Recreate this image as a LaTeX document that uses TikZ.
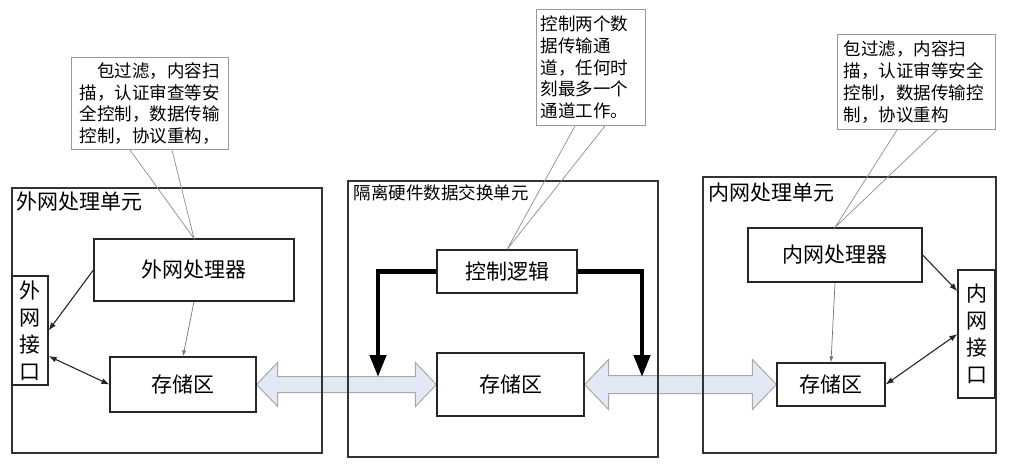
\documentclass[tikz,border=0pt]{standalone}
\usepackage{fontspec}
\usepackage{tikz}
\usetikzlibrary{arrows.meta,calc,backgrounds}
\newfontfamily\cjk{Noto Sans CJK SC}
\definecolor{busfill}{HTML}{E3E9F4}
\definecolor{busline}{HTML}{A8A8A8}

\tikzset{
  unit/.style={draw=black!80, line width=1.2pt, inner sep=0pt},
  box/.style={draw=black!85, line width=1.2pt, inner sep=0pt, font=\cjk\fontsize{21}{25}\selectfont},
  port/.style={box, align=center, font=\cjk\fontsize{21}{27}\selectfont},
  title/.style={anchor=north west, inner sep=0pt, font=\cjk\fontsize{21}{25}\selectfont},
  note/.style={draw=black!40, line width=1pt, anchor=north west, align=left, font=\cjk\fontsize{17.5}{21.7}\selectfont},
  pointer/.style={draw=black!45, line width=0.7pt},
  link/.style={black!85, line width=1.1pt, >={Latex[length=8pt,width=6pt]}},
  feed/.style={black!55, line width=0.7pt, -{Latex[length=6pt,width=4pt]}},
  ctrl/.style={line width=4.5pt, -{Triangle[length=22pt,width=16pt]}},
  bus/.style={draw=busline, fill=busfill, line width=1pt, line join=miter}
}

\begin{document}
\begin{tikzpicture}[x=1pt,y=-1pt]
  \useasboundingbox (0,0) rectangle (1025,463);

  % Units
  \node[unit, minimum width=310pt, minimum height=265pt] (outer) at (167,320.5) {};
  \node[unit, minimum width=310pt, minimum height=276pt] (switch) at (503,319) {};
  \node[unit, minimum width=293pt, minimum height=276pt] (inner) at (849.5,315) {};
  \node[title] (outert) at ($(outer.north west)+(5,4)$) {外网处理单元};
  \node[title, font=\cjk\fontsize{17.5}{21}\selectfont] (switcht) at ($(switch.north west)+(6,4)$) {隔离硬件数据交换单元};
  \node[title] (innert) at ($(inner.north west)+(6,6)$) {内网处理单元};

  % Blocks
  \node[box, minimum width=200pt, minimum height=62pt] (lp) at (194,270) {外网处理器};
  \node[port, minimum width=36pt, minimum height=109pt] (li) at (30,330.5) {外\\网\\接\\口};
  \node[box, minimum width=146pt, minimum height=55pt] (ls) at (183,384.5) {存储区};
  \node[box, minimum width=140pt, minimum height=43pt] (ctl) at (507,271.5) {控制逻辑};
  \node[box, minimum width=147pt, minimum height=63pt] (ms) at (510.5,384.5) {存储区};
  \node[box, minimum width=174pt, minimum height=54pt] (rp) at (835,255) {内网处理器};
  \node[port, minimum width=37pt, minimum height=128pt] (ri) at (976.5,334) {内\\网\\接\\口};
  \node[box, minimum width=108pt, minimum height=43pt] (rs) at (831,384.5) {存储区};

  % Data exchange arrows, behind the frames
  \begin{scope}[on background layer]
    \draw[bus] let \p1=(ls.east), \p2=(ms.west) in
      (\x1,\y1) -- (\x1+21pt,\y1+22pt) -- (\x1+21pt,\y1+8pt) -- (\x2-21pt,\y1+8pt)
      -- (\x2-21pt,\y1+22pt) -- (\x2,\y1) -- (\x2-21pt,\y1-22pt) -- (\x2-21pt,\y1-8pt)
      -- (\x1+21pt,\y1-8pt) -- (\x1+21pt,\y1-22pt) -- cycle;
    \draw[bus] let \p1=(ms.east), \p2=(rs.west) in
      (\x1,\y1) -- (\x1+24pt,\y1+25pt) -- (\x1+24pt,\y1+9pt) -- (\x2-24pt,\y1+9pt)
      -- (\x2-24pt,\y1+25pt) -- (\x2,\y1) -- (\x2-24pt,\y1-25pt) -- (\x2-24pt,\y1-9pt)
      -- (\x1+24pt,\y1-9pt) -- (\x1+24pt,\y1-25pt) -- cycle;
  \end{scope}

  % Links
  \draw[link, ->] (lp.west) -- (li.east);
  \draw[link, <->] (li.-54) -- (ls.west);
  \draw[feed] (lp.south) -- (ls.north);
  \draw[link, ->] (rp.east) -- (ri.114);
  \draw[link, <->] (ri.west) -- (rs.east);
  \draw[feed] (rp.south) -- (rs.north);

  % Control lines
  \coordinate (ctlL) at (378,377);
  \coordinate (ctlR) at (642,377);
  \draw[ctrl] (ctl.west) -| (ctlL);
  \draw[ctrl] (ctl.east) -| (ctlR);

  % Notes
  \node[note, text width=141pt, inner xsep=8pt, inner ysep=5pt, minimum height=92pt] (n1) at (71,57)
    {\hspace*{17.5pt}包过滤，内容扫\\描，认证审查等安\\全控制，数据传输\\控制，协议重构，};
  \node[note, text width=101pt, inner xsep=4pt, inner ysep=4pt, minimum height=116pt] (n2) at (536,9)
    {控制两个数\\据传输通\\道，任何时\\刻最多一个\\通道工作。};
  \node[note, text width=146pt, inner xsep=6pt, inner ysep=4pt, minimum height=95pt] (n3) at (837,34)
    {包过滤，内容扫\\描，认证审等安全\\控制，数据传输控\\制，协议重构};
  \draw[pointer] ($(n1.south west)+(59,0)$) -- (lp.north) -- ($(n1.south west)+(101,0)$);
  \draw[pointer] ($(n2.south west)+(39,0)$) -- (ctl.north) -- ($(n2.south west)+(69,0)$);
  \draw[pointer] ($(n3.south west)+(60,0)$) -- (rp.north) -- ($(n3.south west)+(100,0)$);
\end{tikzpicture}
\end{document}
